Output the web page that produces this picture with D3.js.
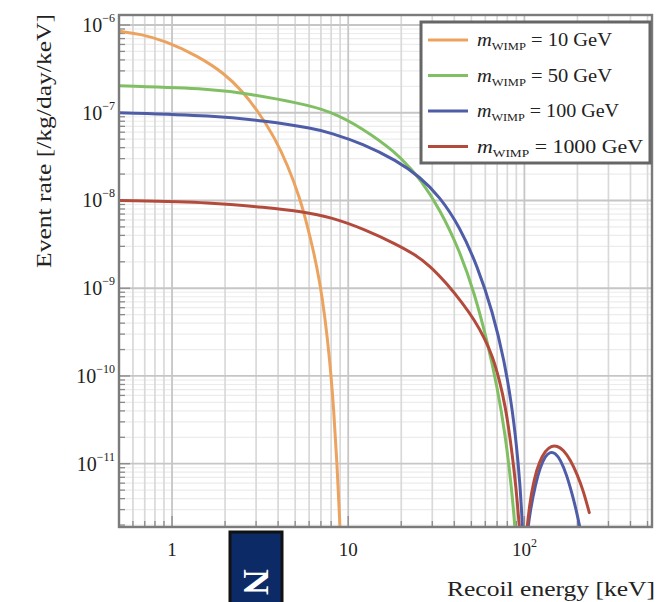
<!DOCTYPE html>
<html>
<head>
<meta charset="utf-8">
<script src="https://cdn.jsdelivr.net/npm/d3@7/dist/d3.min.js"></script>
<style>
  html, body { margin: 0; padding: 0; background: #fff; }
  svg { display: block; }
  text { font-family: "Liberation Serif", "DejaVu Serif", serif; fill: #222; }
</style>
</head>
<body>
<svg id="chart" width="664" height="602"></svg>
<script>
// WIMP nuclear-recoil spectra: recoil energy [keV] vs event rate [/kg/day/keV]
const seriesNames = ["10", "50", "100", "1000"];
const seriesColors = ["#EBA35F", "#80BF63", "#4F5DA8", "#B34B3D"];

const energy10 = [0.5, 0.66, 0.91, 1.4, 2.0, 2.49, 3.07, 3.83, 4.54, 5.31, 5.9, 6.38, 6.9, 7.36, 7.86, 8.28, 8.61, 8.95, 9.07];
const rate10   = [8.5e-7, 7.9e-7, 6.6e-7, 4.45e-7, 2.77e-7, 1.78e-7, 1.05e-7, 5.2e-8, 2.5e-8, 1.08e-8, 4.9e-9, 2.56e-9, 1.17e-9, 4.9e-10, 1.52e-10, 4.1e-11, 1.11e-11, 2.3e-12, 1.05e-12];

const energy50 = [0.5, 1.75, 2.7, 5.17, 7.86, 12.08, 18.83, 22.3, 25.42, 33.0, 42.83, 52.09, 61.72, 70.31, 78.06, 84.39, 88.92, 91.5];
const rate50   = [2.03e-7, 1.87e-7, 1.64e-7, 1.3e-7, 1.054e-7, 6.67e-8, 3.47e-8, 2.37e-8, 1.78e-8, 8.11e-9, 2.7e-9, 8.77e-10, 2.43e-10, 7.31e-11, 2.08e-11, 5.48e-12, 1.73e-12, 5e-13];

const energy100 = [0.5, 1.752, 3.365, 6.46, 7.86, 12.08, 18.83, 25.42, 33.0, 42.83, 54.17, 65.88, 77.04, 85.51, 92.47, 97.43, 100,
                   102.6, 108.1, 115.4, 123.2, 131.5, 140.4, 149.8, 160.0, 173.0, 187.1, 199.7, 210.3];
const rate100   = [1.0e-7, 9.24e-8, 8.11e-8, 6.58e-8, 5.93e-8, 4.45e-8, 2.85e-8, 1.87e-8, 1.11e-8, 5.07e-9, 1.78e-9, 5.48e-10, 1.48e-10, 4.22e-11, 1.03e-11, 2.37e-12, 4e-13,
                   1.37e-12, 3.0e-12, 5.77e-12, 9.25e-12, 1.23e-11, 1.37e-11, 1.33e-11, 1.11e-11, 7.69e-12, 4.45e-12, 2.63e-12, 1.56e-12];

const energy1000 = [0.5, 1.752, 3.365, 5.45, 8.06, 12.41, 18.83, 23.82, 28.96, 36.14, 44.54, 52.09, 59.35, 65.88, 72.18, 78.06, 83.3, 87.77, 91.26, 94.91, 100,
                    101.3, 106.7, 114.0, 121.6, 131.5, 142.2, 153.8, 166.3, 182.3, 199.7, 215.9, 233.5];
const rate1000   = [1.0e-8, 9.49e-9, 8.32e-9, 7.5e-9, 6.41e-9, 4.68e-9, 3.16e-9, 2.43e-9, 1.82e-9, 1.14e-9, 6.76e-10, 4.33e-10, 2.7e-10, 1.69e-10, 9.0e-11, 4.45e-11, 1.87e-11, 7.9e-12, 3.61e-12, 1.37e-12, 4e-13,
                    1.2e-12, 3.42e-12, 6.93e-12, 1.05e-11, 1.41e-11, 1.6e-11, 1.6e-11, 1.44e-11, 1.11e-11, 7.5e-12, 4.93e-12, 2.77e-12];

const xTickValues = [1, 10, 100];
const xTickLabels = [["1", ""], ["10", ""], ["10", "2"]];
const yTickValues = [1e-6, 1e-7, 1e-8, 1e-9, 1e-10, 1e-11];
const yTickLabels = ["−6", "−7", "−8", "−9", "−10", "−11"];

const series = [
  { name: seriesNames[0], color: seriesColors[0], e: energy10,   r: rate10 },
  { name: seriesNames[1], color: seriesColors[1], e: energy50,   r: rate50 },
  { name: seriesNames[2], color: seriesColors[2], e: energy100,  r: rate100 },
  { name: seriesNames[3], color: seriesColors[3], e: energy1000, r: rate1000 }
];

const svg = d3.select("#chart");
const L = 119, R = 652, T = 15, B = 527;

const x = d3.scaleLog().domain([0.5, 530]).range([L, R]);
const y = d3.scaleLog().domain([1.9e-12, 1.3e-6]).range([B, T]);

svg.append("rect").attr("x", L).attr("y", T).attr("width", R - L).attr("height", B - T).attr("fill", "#fff");

// grid
const xMinor = [], xMajor = [];
for (let d = 0.1; d <= 1000; d *= 10) {
  for (let k = 1; k <= 9; k++) {
    const v = +(d * k).toPrecision(3);
    if (v < 0.5 || v > 530) continue;
    (k === 1 ? xMajor : xMinor).push(v);
  }
}
const yMinor = [], yMajor = [];
for (let p = -12; p <= -6; p++) {
  for (let k = 1; k <= 9; k++) {
    const v = k * Math.pow(10, p);
    if (v < 1.9e-12 || v > 1.3e-6) continue;
    (k === 1 ? yMajor : yMinor).push(v);
  }
}
const grid = svg.append("g");
grid.selectAll(".hm").data(yMinor).join("line")
  .attr("x1", L).attr("x2", R).attr("y1", d => y(d)).attr("y2", d => y(d))
  .attr("stroke", "#ececec").attr("stroke-width", 1.2);
grid.selectAll(".vm").data(xMinor).join("line")
  .attr("y1", T).attr("y2", B).attr("x1", d => x(d)).attr("x2", d => x(d))
  .attr("stroke", "#d9d9d9").attr("stroke-width", 1.7);
grid.selectAll(".hM").data(yMajor).join("line")
  .attr("x1", L).attr("x2", R).attr("y1", d => y(d)).attr("y2", d => y(d))
  .attr("stroke", "#c6c6c6").attr("stroke-width", 1.8);
grid.selectAll(".vM").data(xMajor).join("line")
  .attr("y1", T).attr("y2", B).attr("x1", d => x(d)).attr("x2", d => x(d))
  .attr("stroke", "#c6c6c6").attr("stroke-width", 1.8);

// axis ticks (inward)
const tk = svg.append("g").attr("stroke", "#8a8a8a").attr("stroke-width", 1.3);
tk.selectAll(".ly").data(yMinor).join("line")
  .attr("x1", L).attr("x2", L + 6).attr("y1", d => y(d)).attr("y2", d => y(d));
tk.selectAll(".lY").data(yMajor).join("line")
  .attr("x1", L).attr("x2", L + 11).attr("y1", d => y(d)).attr("y2", d => y(d));
tk.selectAll(".bx").data(xMinor).join("line")
  .attr("y1", B).attr("y2", B - 6).attr("x1", d => x(d)).attr("x2", d => x(d));
tk.selectAll(".bX").data(xMajor).join("line")
  .attr("y1", B).attr("y2", B - 11).attr("x1", d => x(d)).attr("x2", d => x(d));

// curves (B-spline through the sampled points, clipped to the plot area)
svg.append("clipPath").attr("id", "plotclip").append("rect")
  .attr("x", L).attr("y", T).attr("width", R - L).attr("height", B - T);
const line = d3.line().x(d => x(d[0])).y(d => y(d[1])).curve(d3.curveBasis);
const curves = svg.append("g").attr("clip-path", "url(#plotclip)");
series.forEach(s => {
  curves.append("path")
    .datum(s.e.map((e, i) => [e, s.r[i]]))
    .attr("d", line)
    .attr("fill", "none")
    .attr("stroke", s.color)
    .attr("stroke-width", 3)
    .attr("stroke-linejoin", "round")
    .attr("stroke-linecap", "round");
});

// frame
svg.append("rect").attr("x", L).attr("y", T).attr("width", R - L).attr("height", B - T)
  .attr("fill", "none").attr("stroke", "#7b7b7b").attr("stroke-width", 2.4);

// y tick labels
const yl = svg.append("g");
yTickValues.forEach((v, i) => {
  const t = yl.append("text").attr("x", 115).attr("y", y(v) + 7)
    .attr("text-anchor", "end").attr("font-size", 20);
  t.append("tspan").text("10");
  t.append("tspan").attr("dy", -10).attr("font-size", 12).text(yTickLabels[i]);
});

// x tick labels
const xl = svg.append("g");
xTickValues.forEach((v, i) => {
  const t = xl.append("text").attr("x", x(v)).attr("y", 556)
    .attr("text-anchor", "middle").attr("font-size", 19);
  t.append("tspan").text(xTickLabels[i][0]);
  if (xTickLabels[i][1]) t.append("tspan").attr("dy", -9).attr("font-size", 12).text(xTickLabels[i][1]);
});

// axis titles
svg.append("text").attr("x", 655).attr("y", 596).attr("text-anchor", "end")
  .attr("font-size", 21).attr("textLength", 208).attr("lengthAdjust", "spacingAndGlyphs")
  .text("Recoil energy [keV]");
svg.append("text").attr("transform", "translate(51,141) rotate(-90)")
  .attr("text-anchor", "middle").attr("font-size", 20)
  .attr("textLength", 254).attr("lengthAdjust", "spacingAndGlyphs")
  .text("Event rate [/kg/day/keV]");

// legend
const legendWidths = [135, 135, 142, 166];
const lg = svg.append("g");
lg.append("rect").attr("x", 421).attr("y", 22).attr("width", 229).attr("height", 141)
  .attr("fill", "#fff").attr("stroke", "#666").attr("stroke-width", 3);
series.forEach((s, i) => {
  const cy = 40 + i * 35.5;
  lg.append("line").attr("x1", 428).attr("x2", 468).attr("y1", cy).attr("y2", cy)
    .attr("stroke", s.color).attr("stroke-width", 3.2);
  const t = lg.append("text").attr("x", 477).attr("y", cy + 6).attr("font-size", 18)
    .attr("textLength", legendWidths[i]).attr("lengthAdjust", "spacingAndGlyphs");
  t.append("tspan").attr("font-style", "italic").text("m");
  t.append("tspan").attr("dy", 4).attr("font-size", 11).text("WIMP");
  t.append("tspan").attr("dy", -4).text(" = " + s.name + " GeV");
});

// publisher badge
const badge = svg.append("g");
badge.append("rect").attr("x", 230).attr("y", 532).attr("width", 52).attr("height", 72)
  .attr("fill", "#0c2a66").attr("stroke", "#111").attr("stroke-width", 3);
badge.append("text").attr("transform", "translate(256,582) rotate(90)")
  .attr("text-anchor", "middle").attr("dominant-baseline", "central")
  .attr("font-size", 36).attr("font-weight", "bold").style("fill", "#fff").text("N");
</script>
</body>
</html>
